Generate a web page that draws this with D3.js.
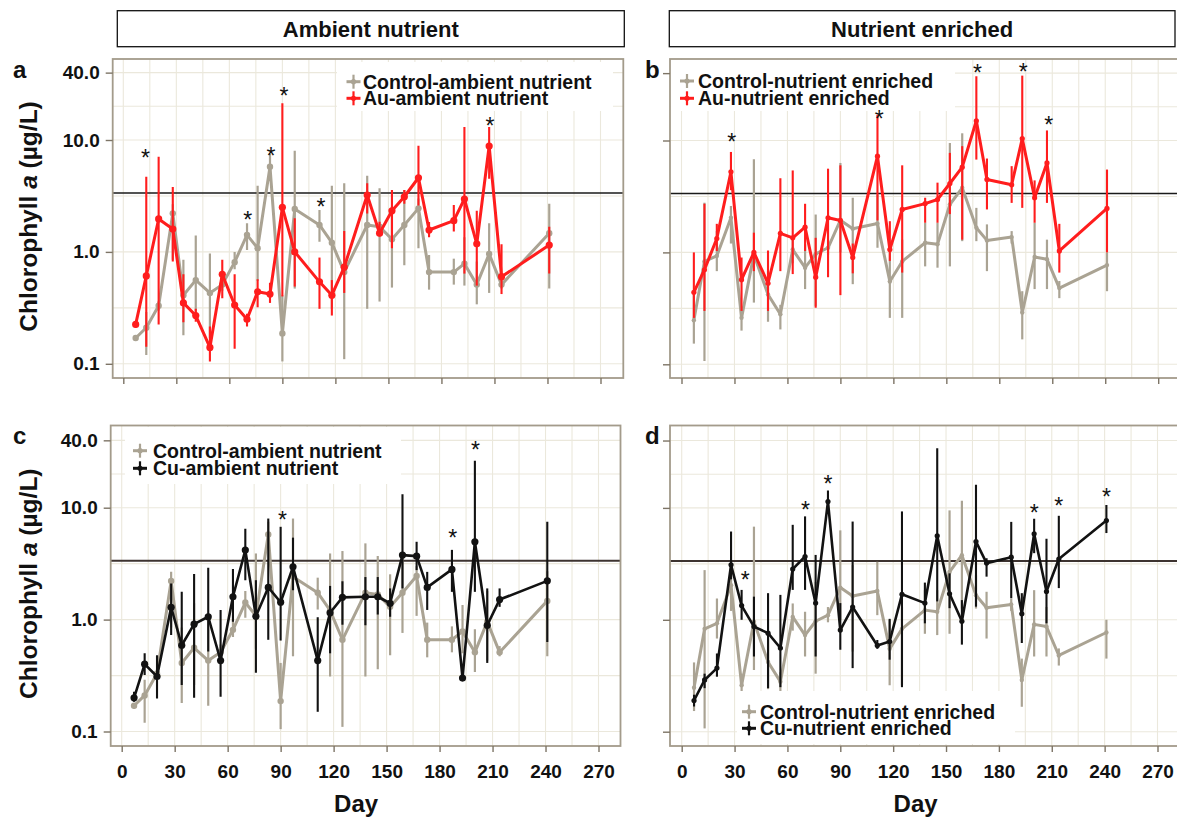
<!DOCTYPE html>
<html><head><meta charset="utf-8">
<script src="https://cdn.jsdelivr.net/npm/d3@7"></script>
<style>
html,body{margin:0;padding:0;background:#fff;}
svg{display:block;font-family:"Liberation Sans",Arial,Helvetica,sans-serif;}
</style></head><body>
<svg id="chart" width="1177" height="817"></svg>
<script>
// Sampling days (shared by every series)
const days = [7,13,20,28,34,41,49,56,63,70,76,83,90,97,111,118,125,138,145,152,159,167,173,187,193,200,207,214,241];

// Control, ambient nutrient (panels a and c)
const ctrlAmb   = [0.17,0.21,0.33,2.21,0.41,0.56,0.43,0.51,0.81,1.42,1.08,5.77,0.187,2.42,1.74,1.21,0.66,1.74,1.68,1.30,1.74,2.45,0.66,0.66,0.785,0.51,0.96,0.51,1.47];
const ctrlAmbLo = [0.16,0.12,0.30,0.85,0.18,0.26,0.17,0.45,0.70,1.04,0.55,4.5,0.105,0.47,1.23,0.31,0.11,0.31,0.36,0.48,0.76,1.08,0.46,0.51,0.50,0.34,0.43,0.47,0.47];
const ctrlAmbHi = [0.18,0.29,0.36,2.67,0.85,1.4,0.97,0.60,1.0,1.8,3.9,7.5,0.41,8.0,2.37,3.9,4.1,4.8,3.7,2.54,3.57,3.0,0.94,0.87,1.35,0.82,1.8,0.58,2.7];

// Au, ambient nutrient (panel a)
const auAmb   = [0.225,0.61,1.97,1.60,0.35,0.27,0.14,0.63,0.335,0.25,0.44,0.42,2.50,1.0,0.54,0.41,0.73,3.22,1.47,2.33,3.11,4.6,1.57,1.90,2.97,1.18,8.84,0.60,1.15];
const auAmbLo = [0.21,0.142,0.225,0.82,0.235,0.238,0.105,0.385,0.136,0.215,0.32,0.35,0.40,0.49,0.31,0.27,0.43,2.2,1.37,1.08,2.7,2.6,1.35,1.52,0.64,0.5,4.5,0.42,0.64];
const auAmbHi = [0.24,4.7,7.1,3.8,0.63,0.31,0.215,0.85,0.63,0.28,0.57,0.53,21.3,2.0,0.89,0.56,1.54,4.1,1.86,3.57,3.57,8.9,1.85,2.62,13.1,2.33,13.1,1.17,1.68];

// Control, nutrient enriched (panels b and d)
const ctrlEnr   = [0.247,0.83,0.93,2.04,0.26,0.96,0.42,0.28,1.06,0.73,0.97,1.10,1.94,1.63,1.81,0.55,0.83,1.22,1.18,2.68,3.78,1.66,1.28,1.37,0.29,0.91,0.87,0.48,0.77];
const ctrlEnrLo = [0.153,0.107,0.68,1.2,0.2,0.356,0.24,0.205,0.8,0.47,0.33,0.95,1.0,0.52,1.1,0.26,0.26,0.75,0.73,0.75,1.26,1.26,0.68,1.2,0.167,0.47,0.47,0.39,0.45];
const ctrlEnrHi = [0.416,2.78,1.55,2.6,0.33,6.8,0.68,0.34,1.4,1.18,2.18,1.3,6.3,3.08,3.3,1.0,1.3,1.84,1.84,9.5,11.6,2.5,1.78,1.55,0.45,1.84,1.3,0.555,1.0];

// Au, nutrient enriched (panel b)
const auEnr   = [0.44,0.70,1.33,5.25,0.57,1.0,0.53,1.48,1.35,1.68,0.60,2.04,1.93,0.90,7.25,1.06,2.42,2.73,2.97,4.13,5.78,15.0,4.49,4.02,10.4,3.08,6.3,1.03,2.47];
const auEnrLo = [0.26,0.30,1.03,3.6,0.3,0.68,0.30,0.68,0.64,1.03,0.32,0.6,0.415,0.65,1.93,0.84,0.66,1.84,1.84,2.2,1.3,6.75,2.42,2.77,2.5,1.84,2.77,0.66,1.0];
const auEnrHi = [1.0,2.72,1.8,7.9,0.9,1.5,1.04,4.6,5.4,2.72,1.35,5.6,6.0,1.2,16.9,1.9,6.0,3.08,4.2,7.75,8.9,37.5,6.9,5.9,38,4.4,12.3,1.8,5.5];

// Cu, ambient nutrient (panel c)
const cuAmb   = [0.20,0.40,0.31,1.29,0.59,0.91,1.06,0.43,1.60,4.18,1.07,1.94,1.43,2.96,0.43,1.15,1.58,1.60,1.60,1.40,3.77,3.69,1.94,2.81,0.30,4.96,0.89,1.51,2.22];
const cuAmbLo = [0.184,0.32,0.197,0.73,0.26,0.20,0.52,0.204,0.955,2.25,0.335,0.66,0.65,1.83,0.15,0.5,0.9,0.89,1.11,1.06,1.9,2.77,1.22,1.77,0.30,1.77,0.41,1.3,0.63];
const cuAmbHi = [0.227,0.50,0.48,2.1,1.77,2.55,2.9,1.22,2.83,6.5,2.25,8.0,6.75,5.4,1.05,2.0,2.2,2.4,2.4,1.9,13.2,4.96,2.67,4.2,0.30,26.3,1.9,1.9,7.5];

// Cu, nutrient enriched (panel d)
const cuEnr   = [0.19,0.29,0.37,3.1,1.34,0.87,0.76,0.56,2.84,3.68,1.41,11.4,0.81,1.30,0.59,0.64,1.69,1.41,5.63,1.71,0.97,5.0,3.21,3.63,1.13,5.87,1.79,3.49,7.71];
const cuEnrLo = [0.168,0.245,0.31,2.3,1.0,0.47,0.245,0.25,1.85,1.85,0.47,9.6,0.54,0.37,0.55,0.44,0.25,0.93,1.46,1.27,0.6,1.31,2.43,1.56,0.62,3.94,0.93,1.92,5.96];
const cuEnrHi = [0.214,0.33,0.50,6.15,1.85,1.61,1.73,1.67,7.06,8.4,3.8,14.3,1.41,7.55,0.66,1.02,9.3,2.15,34.2,2.6,1.5,16.1,3.55,7.5,1.73,8.0,5.3,8.5,10.6];

// Significance markers: day and height (µg/L) of each asterisk
const starsA = {day:[12.5,70.4,83.5,90.9,111.8,207.5], level:[7.8,2.14,8.0,27.6,2.81,14.8]};
const starsB = {day:[28.4,112,167.6,193.6,208], level:[10.9,17.6,44.6,46,15.4]};
const starsC = {day:[91,187.5,200.4], level:[8.7,6.0,36.8]};
const starsD = {day:[36,70.2,83,200,214,241], level:[2.52,10.7,18.5,10.0,11.7,14.1]};

// Axis ticks, reference level and text
const yTicks = [0.1, 1, 10, 40];
const yMinor = [0.316, 3.162, 20];
const xTicks = [0,30,60,90,120,150,180,210,240,270];
const xGrid = d3.range(0, 271, 15);
const refLevel = 3.36;
const stripTitles = ["Ambient nutrient", "Nutrient enriched"];
const xTitle = "Day";

const GREY = "#aaa393", RED = "#ff1d1d", BLACK = "#121212";
const FRAME = "#a39b8b", GRID = "#ebe8dc";
const DECADE = 111.9;

const panels = [
  {letter:"a", frame:[112.7,59,623.3,378], x0:123.3, x270:600.5, y1:251.9, labels:false,
   ctrl:{v:ctrlAmb, lo:ctrlAmbLo, hi:ctrlAmbHi}, trt:{v:auAmb, lo:auAmbLo, hi:auAmbHi},
   colour:RED, r:3.6, names:["Control-ambient nutrient","Au-ambient nutrient"],
   legend:{box:[337,62,613,111], sx:353.5, tx:363, rows:[81.7,98.3]}, stars:starsA},
  {letter:"b", frame:[670,59,1181,378], x0:681.5, x270:1158.2, y1:252.4, labels:false,
   ctrl:{v:ctrlEnr, lo:ctrlEnrLo, hi:ctrlEnrHi}, trt:{v:auEnr, lo:auEnrLo, hi:auEnrHi},
   colour:RED, r:2.6, names:["Control-nutrient enriched","Au-nutrient enriched"],
   legend:{box:[671,60,955,111], sx:687, tx:698, rows:[81,98.3]}, stars:starsB},
  {letter:"c", frame:[110.7,425.5,620.5,746], x0:121.7, x270:598.5, y1:619.6, labels:true,
   ctrl:{v:ctrlAmb, lo:ctrlAmbLo, hi:ctrlAmbHi}, trt:{v:cuAmb, lo:cuAmbLo, hi:cuAmbHi},
   colour:BLACK, r:3.6, names:["Control-ambient nutrient","Cu-ambient nutrient"],
   legend:{box:[125,427,401,484], sx:140, tx:153, rows:[450.7,468.3]}, stars:starsC},
  {letter:"d", frame:[670,425.5,1181,746], x0:681.7, x270:1157.5, y1:619.8, labels:true,
   ctrl:{v:ctrlEnr, lo:ctrlEnrLo, hi:ctrlEnrHi}, trt:{v:cuEnr, lo:cuEnrLo, hi:cuEnrHi},
   colour:BLACK, r:2.6, names:["Control-nutrient enriched","Cu-nutrient enriched"],
   legend:{box:[737,691,1015,744], sx:749, tx:760, rows:[711.7,728.3]}, stars:starsD}
];

const svg = d3.select("#chart");
svg.append("rect").attr("width",1177).attr("height",817).attr("fill","#fff");

// Facet strips
[[117.3,624.3],[669.3,1175]].forEach((s,i)=>{
  svg.append("rect").attr("x",s[0]).attr("y",10.7).attr("width",s[1]-s[0]).attr("height",36)
    .attr("fill","#fff").attr("stroke","#111").attr("stroke-width",1.3);
  svg.append("text").attr("x",(s[0]+s[1])/2).attr("y",28.7).attr("dy","0.36em")
    .attr("text-anchor","middle").attr("font-weight","bold").attr("font-size",22)
    .attr("fill","#111").text(stripTitles[i]);
});

panels.forEach(p=>{
  const [L,T,R,B] = p.frame;
  const x = d3.scaleLinear().domain([0,270]).range([p.x0,p.x270]);
  const y = d3.scaleLog().domain([0.1,40]).range([p.y1+DECADE, p.y1-Math.log10(40)*DECADE]);
  const g = svg.append("g");
  const clipId = "clip-"+p.letter;
  svg.append("clipPath").attr("id",clipId).append("rect")
    .attr("x",L).attr("y",T).attr("width",R-L).attr("height",B-T);
  const inner = g.append("g").attr("clip-path",`url(#${clipId})`);

  // grid
  inner.selectAll(".vg").data(xGrid).join("line")
    .attr("x1",d=>x(d)).attr("x2",d=>x(d)).attr("y1",T).attr("y2",B)
    .attr("stroke",GRID).attr("stroke-width",1.1);
  inner.selectAll(".hg").data(yTicks.concat(yMinor)).join("line")
    .attr("x1",L).attr("x2",R).attr("y1",d=>y(d)).attr("y2",d=>y(d))
    .attr("stroke",GRID).attr("stroke-width",1.1);

  // reference level
  inner.append("line").attr("x1",L).attr("x2",R).attr("y1",y(refLevel)).attr("y2",y(refLevel))
    .attr("stroke", p.labels ? "#3d3330" : "#1a1a1a").attr("stroke-width", p.labels ? 2 : 1.6);

  const drawSeries = (s, colour, lw, ew, r) => {
    const pts = days.map((d,i)=>({d, v:s.v[i], lo:s.lo[i], hi:s.hi[i]}));
    inner.append("g").selectAll("line").data(pts).join("line")
      .attr("x1",d=>x(d.d)).attr("x2",d=>x(d.d))
      .attr("y1",d=>y(d.lo)).attr("y2",d=>y(d.hi))
      .attr("stroke",colour).attr("stroke-width",ew);
    inner.append("path").datum(pts)
      .attr("d", d3.line().x(d=>x(d.d)).y(d=>y(d.v)))
      .attr("fill","none").attr("stroke",colour).attr("stroke-width",lw)
      .attr("stroke-linejoin","round");
    inner.append("g").selectAll("circle").data(pts).join("circle")
      .attr("cx",d=>x(d.d)).attr("cy",d=>y(d.v)).attr("r",r).attr("fill",colour);
  };
  drawSeries(p.ctrl, GREY, 3, 2.2, p.r-0.4);
  drawSeries(p.trt, p.colour, p.colour===RED?3:2.6, 2.1, p.r);

  // legend
  const lg = p.legend;
  g.append("rect").attr("x",lg.box[0]).attr("y",lg.box[1])
    .attr("width",lg.box[2]-lg.box[0]).attr("height",lg.box[3]-lg.box[1]).attr("fill","#fff");
  [GREY, p.colour].forEach((c,i)=>{
    const cy = lg.rows[i];
    g.append("line").attr("x1",lg.sx-7).attr("x2",lg.sx+7).attr("y1",cy).attr("y2",cy)
      .attr("stroke",c).attr("stroke-width",3);
    g.append("line").attr("x1",lg.sx).attr("x2",lg.sx).attr("y1",cy-7).attr("y2",cy+7)
      .attr("stroke",c).attr("stroke-width",2.2);
    g.append("circle").attr("cx",lg.sx).attr("cy",cy).attr("r",2.6).attr("fill",c);
    g.append("text").attr("x",lg.tx).attr("y",cy).attr("dy","0.36em")
      .attr("font-size",19.5).attr("font-weight","bold").attr("fill","#111").text(p.names[i]);
  });

  // asterisks
  g.selectAll(".star").data(p.stars.day.map((d,i)=>[d,p.stars.level[i]])).join("text")
    .attr("x",d=>x(d[0])).attr("y",d=>y(d[1])+13.5)
    .attr("text-anchor","middle").attr("font-size",23).attr("fill","#111").text("*");

  // frame
  g.append("rect").attr("x",L).attr("y",T).attr("width",R-L).attr("height",B-T)
    .attr("fill","none").attr("stroke",FRAME).attr("stroke-width",1.8);

  // axes
  const ay = g.append("g").attr("transform",`translate(${L},0)`)
    .call(d3.axisLeft(y).tickValues(yTicks).tickFormat(d3.format(".1f")).tickSize(7).tickPadding(6));
  const ax = g.append("g").attr("transform",`translate(0,${B})`)
    .call(d3.axisBottom(x).tickValues(xTicks).tickSize(6).tickPadding(13));
  [ay,ax].forEach(a=>{
    a.select(".domain").remove();
    a.selectAll(".tick line").attr("stroke","#7d7466").attr("stroke-width",1.4);
    a.selectAll(".tick text").attr("font-size",19).attr("font-weight","bold")
      .attr("fill","#111").attr("font-family",null);
  });
  if (p.letter==="b" || p.letter==="d") ay.selectAll(".tick text").remove();
  if (!p.labels) ax.selectAll(".tick text").remove();

  // panel letter
  g.append("text").attr("x", p.letter==="a"||p.letter==="c" ? 13 : 645)
    .attr("y", T+18.5).attr("font-size",24).attr("font-weight","bold").attr("fill","#111").text(p.letter);

  // axis titles
  if (p.letter==="a" || p.letter==="c") {
    const cy = (T+B)/2 - 2;
    const t = g.append("text").attr("transform",`translate(37,${cy}) rotate(-90)`)
      .attr("text-anchor","middle").attr("font-size",24.5).attr("font-weight","bold").attr("fill","#111");
    t.append("tspan").text("Chlorophyll ");
    t.append("tspan").attr("font-style","italic").text("a");
    t.append("tspan").text(" (µg/L)");
  }
  if (p.labels) {
    g.append("text").attr("x",(p.x0+p.x270)/2 - 4).attr("y",811.5).attr("text-anchor","middle")
      .attr("font-size",24).attr("font-weight","bold").attr("fill","#111").text(xTitle);
  }
});
</script>
</body></html>
